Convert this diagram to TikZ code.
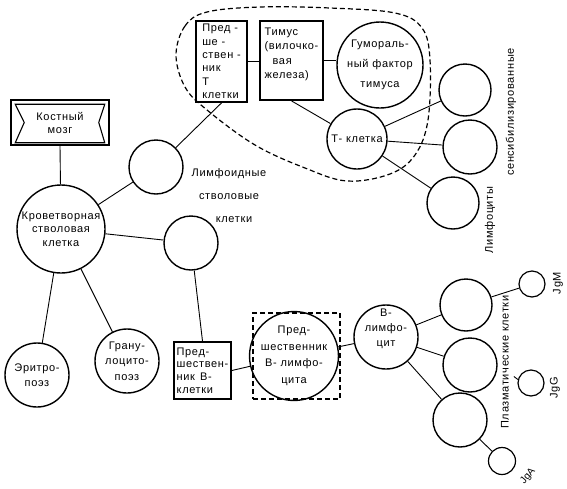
\documentclass[tikz,border=0pt]{standalone}
\usepackage{fontspec}
\setmainfont{Liberation Sans}[LetterSpace=6]
\newfontfamily\plainsans{Liberation Sans}
\begin{document}
\begin{tikzpicture}[x=1pt,y=-1pt,
  font=\fontsize{11}{13}\selectfont,
  circ/.style={circle, draw, line width=1.4pt, inner sep=0pt, align=center},
  box/.style={rectangle, draw, line width=1.8pt, inner sep=2pt},
  conn/.style={line width=0.9pt},
  dashbox/.style={draw, dashed, line width=1.2pt, dash pattern=on 5pt off 3pt},
  rottext/.style={rotate=90, inner sep=0pt}]
\useasboundingbox (0,0) rectangle (567,488);

% bone marrow banner
\node[box, minimum width=98, minimum height=45, line width=1.5pt, align=center] (bm) at (60,122.5) {Костный\\мозг};
\draw[line width=1.1pt] ([shift={(5,5)}]bm.north west) -- ([shift={(-5,5)}]bm.north east)
  -- ([xshift=-11]bm.east) -- ([shift={(-5,-3)}]bm.south east)
  -- ([shift={(5,-3)}]bm.south west) -- ([xshift=14]bm.west) -- cycle;

% circles
\node[circ, minimum size=88, font=\fontsize{11}{13.5}\selectfont] (hsc) at (61,229) {Кроветворная\\стволовая\\клетка};
\node[circ, minimum size=54] (lsc1) at (156,167) {};
\node[circ, minimum size=54] (lsc2) at (191,243) {};
\node[circ, minimum size=64, font=\fontsize{11}{15}\selectfont] (ery) at (37,375) {Эритро-\\поэз};
\node[circ, minimum size=64, font=\fontsize{11}{15.5}\selectfont] (gran) at (127,361) {Грану-\\лоцито-\\поэз};

\node[align=center, font=\fontsize{11}{23}\selectfont] (lsctxt) at (229,196) {Лимфоидные\\стволовые\\\hspace*{10pt}клетки};

% T branch
\node[box, minimum width=51, minimum height=81, align=left, font=\fontsize{11}{13.3}\selectfont] (preT) at (221.5,61.5) {Пред -\\ше -\\ствен -\\ник\\Т\\клетки};
\node[box, minimum width=63, minimum height=79, align=left, inner sep=1.5pt, font=\fontsize{11}{14.5}\selectfont] (thy) at (291.5,60.5) {Тимус\\(вилочко-\\\hspace*{8pt}вая\\железа)\\\mbox{}};
\node[circ, minimum size=86, font=\fontsize{11}{20}\selectfont] (hum) at (380,65) {Гумораль-\\ный фактор\\тимуса};
\node[circ, minimum size=60] (tc) at (357,139) {Т- клетка};
\node[circ, minimum size=52] (sA) at (465,90) {};
\node[circ, minimum size=54] (sB) at (470,147) {};
\node[circ, minimum size=52] (sC) at (453,203) {};
\node[rottext] (lymtxt1) at (490,220) {Лимфоциты};
\node[rottext] (lymtxt2) at (511,112) {сенсибилизированные};

\draw[dashbox] plot[smooth cycle, tension=0.6] coordinates {(176,55) (185,26) (207,12) (260,7) (330,8) (395,13) (422,28) (430,60) (428,120) (415,155) (390,174) (347,181) (305,168) (255,145) (207,110) (185,87)};

% B branch
\node[box, minimum width=57, minimum height=57, align=left, inner sep=1pt, font=\fontsize{11}{12.7}\selectfont] (preB) at (202.5,370.5) {Пред-\\шествен-\\ник\hspace{5pt}В-\\клетки};
\node[circ, minimum size=76, font=\fontsize{11}{16.5}\selectfont] (preBL) at (294,356) {Пред-\\шественник\\В- лимфо-\\цита};
\node[dashbox, minimum width=87, minimum height=86] (preBLbox) at (296.5,356) {};
\node[circ, minimum size=64] (bl) at (386,337) {};
\node[align=center, font=\fontsize{11}{15}\selectfont] (bltxt) at (386,329) {В-\\лимфо-\\цит};
\node[circ, minimum size=52] (p1) at (466,305) {};
\node[circ, minimum size=54] (p2) at (470,365) {};
\node[circ, minimum size=54] (p3) at (460,420) {};
\node[circ, minimum size=26, line width=1.2pt] (gM) at (532,284) {};
\node[circ, minimum size=26, line width=1.2pt] (gG) at (531,383) {};
\node[circ, minimum size=27, line width=1.2pt] (gA) at (502,461) {};
\node[rottext] (plasmtxt) at (505,362) {Плазматические клетки};
\node[rottext] (gMtxt) at (558,283) {JgM};
\node[rottext] (gGtxt) at (555,388) {JgG};
\node[rotate=50, inner sep=0pt, font=\plainsans\fontsize{10}{11}\selectfont] (gAtxt) at (528,476) {JgA};

% connectors
\draw[conn] (bm.south) -- (hsc);
\draw[conn] (hsc) -- (lsc1);
\draw[conn] (hsc) -- (lsc2);
\draw[conn] (hsc) -- (ery);
\draw[conn] (hsc) -- (gran);
\draw[conn] (lsc1) -- (preT.south);
\draw[conn] (lsc2) -- (preB.north);
\draw[conn, line width=1.3pt] (preT.east) -- (preT.east -| thy.west);
\draw[conn, line width=1.3pt] (thy.east) -- (thy.east -| hum.west);
\draw[conn] (thy.south) -- (tc);
\draw[conn] (tc) -- (sA);
\draw[conn] (tc) -- (sB);
\draw[conn] (tc) -- (sC);
\draw[conn] (preB.east) -- (preBL);
\draw[conn] (preBL) -- (bl);
\draw[conn] (bl) -- (p1);
\draw[conn] (bl) -- (p2);
\draw[conn] (bl) -- (p3);
\draw[conn] (p1) -- (gM);
\draw[conn] (p3) -- (gA);
\draw[conn] (gG.165) -- ++(-4,-3);
\end{tikzpicture}
\end{document}
